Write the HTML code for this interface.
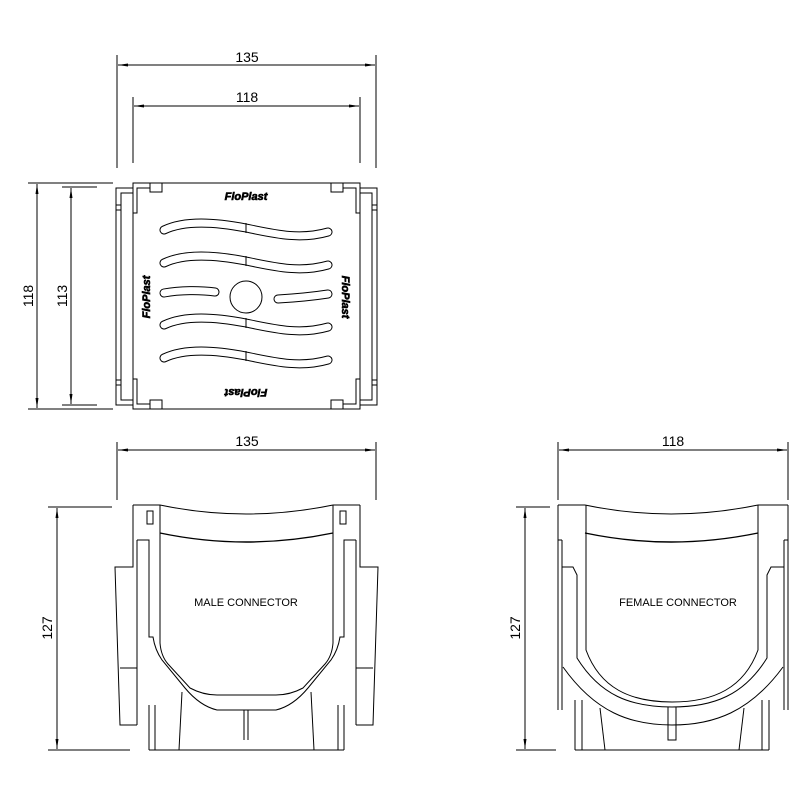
<!DOCTYPE html>
<html><head><meta charset="utf-8"><style>
html,body{margin:0;padding:0;background:#fff;}
svg{display:block;}
text{font-family:"Liberation Sans",sans-serif;fill:#000;}
</style></head><body>
<svg width="800" height="800" viewBox="0 0 800 800" xmlns="http://www.w3.org/2000/svg">
<defs>
<marker id="a" markerWidth="10" markerHeight="6" refX="10" refY="3" orient="auto-start-reverse" markerUnits="userSpaceOnUse"><path d="M0,1.5 L10,3 L0,4.5z" fill="#000"/></marker>
</defs>
<g stroke="#000" stroke-width="1" fill="none">
<line x1="117" y1="55" x2="117" y2="168"/><line x1="376" y1="55" x2="376" y2="168"/>
<line x1="118" y1="65" x2="375" y2="65" marker-start="url(#a)" marker-end="url(#a)"/>
<line x1="133" y1="97" x2="133" y2="163"/><line x1="360" y1="97" x2="360" y2="163"/>
<line x1="134" y1="106" x2="359" y2="106" marker-start="url(#a)" marker-end="url(#a)"/>
<line x1="28" y1="183" x2="113" y2="183"/><line x1="28" y1="409" x2="113" y2="409"/>
<line x1="37" y1="184" x2="37" y2="408" marker-start="url(#a)" marker-end="url(#a)"/>
<line x1="62" y1="187" x2="97" y2="187"/><line x1="62" y1="405" x2="97" y2="405"/>
<line x1="71" y1="188" x2="71" y2="404" marker-start="url(#a)" marker-end="url(#a)"/>
<rect x="133" y="183" width="227" height="226"/>
<path d="M133,188 H116 V405 H133"/><path d="M133,193 H121 V400 H133"/>
<path d="M360,188 H377 V405 H360"/><path d="M360,193 H372 V400 H360"/>
<line x1="116" y1="205" x2="121" y2="205"/><line x1="116" y1="210" x2="121" y2="210"/>
<line x1="116" y1="380" x2="121" y2="380"/><line x1="116" y1="385" x2="121" y2="385"/>
<line x1="372" y1="205" x2="377" y2="205"/><line x1="372" y1="210" x2="377" y2="210"/>
<line x1="372" y1="380" x2="377" y2="380"/><line x1="372" y1="385" x2="377" y2="385"/>
<path d="M150,183 V188 H137 V213 H133"/><path d="M150,188 V192 H162 V183"/>
<path d="M343,183 V188 H356 V213 H360"/><path d="M343,188 V192 H331 V183"/>
<path d="M150,409 V404 H137 V379 H133"/><path d="M150,404 V400 H162 V409"/>
<path d="M343,409 V404 H356 V379 H360"/><path d="M343,404 V400 H331 V409"/>
<g stroke-linecap="round">
<path d="M164,230 C185,220 215,222 246,228 C275,234 300,240 328,232" stroke-width="9"/>
<path d="M164,263 C185,253 215,255 246,261 C275,267 300,273 328,265" stroke-width="9"/>
<path d="M164,293 C180,290 200,290 215,292" stroke-width="9"/>
<path d="M278,299 C295,298 315,296 328,294" stroke-width="9"/>
<path d="M164,325 C185,315 215,317 246,323 C275,329 300,335 328,327" stroke-width="9"/>
<path d="M164,358 C185,348 215,350 246,356 C275,362 300,368 328,360" stroke-width="9"/>
</g>
<g stroke="#fff" stroke-linecap="round">
<path d="M164,230 C185,220 215,222 246,228 C275,234 300,240 328,232" stroke-width="7"/>
<path d="M164,263 C185,253 215,255 246,261 C275,267 300,273 328,265" stroke-width="7"/>
<path d="M164,293 C180,290 200,290 215,292" stroke-width="7"/>
<path d="M278,299 C295,298 315,296 328,294" stroke-width="7"/>
<path d="M164,325 C185,315 215,317 246,323 C275,329 300,335 328,327" stroke-width="7"/>
<path d="M164,358 C185,348 215,350 246,356 C275,362 300,368 328,360" stroke-width="7"/>
</g>
<line x1="246" y1="223" x2="246" y2="233"/><line x1="246" y1="256" x2="246" y2="266"/>
<line x1="246" y1="318" x2="246" y2="328"/><line x1="246" y1="351" x2="246" y2="361"/>
<circle cx="246" cy="297" r="16"/>

<line x1="117" y1="442" x2="117" y2="500"/><line x1="376" y1="442" x2="376" y2="500"/>
<line x1="118" y1="450" x2="375" y2="450" marker-start="url(#a)" marker-end="url(#a)"/>
<line x1="48" y1="507" x2="112" y2="507"/><line x1="48" y1="750" x2="130" y2="750"/>
<line x1="57" y1="508" x2="57" y2="749" marker-start="url(#a)" marker-end="url(#a)"/>
<line x1="558" y1="442" x2="558" y2="500"/><line x1="788" y1="442" x2="788" y2="500"/>
<line x1="559" y1="450" x2="787" y2="450" marker-start="url(#a)" marker-end="url(#a)"/>
<line x1="516" y1="507" x2="550" y2="507"/><line x1="516" y1="750" x2="556" y2="750"/>
<line x1="525" y1="508" x2="525" y2="749" marker-start="url(#a)" marker-end="url(#a)"/>

<!-- male view -->
<path d="M133,505 H160 M333,505 H360"/>
<path d="M160,505 Q246,523 333,505"/>
<path d="M160,533 Q246,551 333,533" stroke-width="1.4"/>
<path d="M133,505 V567 H115 L120,725 H137"/>
<path d="M360,505 V567 H378 L373,725 H356"/>
<line x1="137" y1="540" x2="137" y2="725"/><line x1="356" y1="540" x2="356" y2="725"/>
<line x1="120" y1="668" x2="137" y2="668"/><line x1="356" y1="668" x2="373" y2="668"/>
<path d="M137,540 H149 V637 H153 Q155,650 162,660 L185,688 Q200,706 217,710 H276 Q293,706 308,688 L331,660 Q338,650 340,637 H344 V540 H356"/>
<path d="M160,505 V643 Q161,656 168,664 L190,688 Q203,695 217,695 H276 Q290,695 303,688 L325,664 Q332,656 333,643 V505"/>
<rect x="147" y="511" width="6" height="13"/><rect x="340" y="511" width="6" height="13"/>
<line x1="149" y1="705" x2="149" y2="750"/><line x1="155" y1="705" x2="155" y2="750"/>
<line x1="344" y1="705" x2="344" y2="750"/><line x1="338" y1="705" x2="338" y2="750"/>
<line x1="182" y1="692" x2="179" y2="750"/><line x1="311" y1="692" x2="314" y2="750"/>
<line x1="149" y1="750" x2="344" y2="750"/>
<line x1="244" y1="710" x2="244" y2="740"/><line x1="248" y1="710" x2="248" y2="740"/>

<!-- female view -->
<path d="M558,505 V710 M788,505 V710"/>
<path d="M558,505 H585 M758,505 H788"/>
<path d="M585,505 Q671,523 758,505"/>
<path d="M585,533 Q671,551 758,533" stroke-width="1.4"/>
<path d="M558,540 H562 M784,540 H788"/>
<path d="M562,540 V710 M784,540 V710"/>
<path d="M562,567 H573 L577,575 V658 C600,695 630,707 672,707 C714,707 744,695 767,658 V575 L771,567 H784"/>
<path d="M586,505 V650 C600,688 630,702 672,702 C714,702 744,688 758,650 V505"/>
<path d="M563,667 C595,712 630,725 672,725 C714,725 750,712 783,667"/>
<line x1="575" y1="700" x2="575" y2="750"/><line x1="582" y1="700" x2="582" y2="750"/>
<line x1="769" y1="700" x2="769" y2="750"/><line x1="762" y1="700" x2="762" y2="750"/>
<line x1="600" y1="708" x2="605" y2="750"/><line x1="744" y1="708" x2="739" y2="750"/>
<line x1="575" y1="750" x2="769" y2="750"/>
<path d="M668,707 V740 H676 V707"/>
</g>
<text x="247" y="62" font-size="14" text-anchor="middle">135</text>
<text x="247" y="102" font-size="14" text-anchor="middle">118</text>
<text x="247" y="446" font-size="14" text-anchor="middle">135</text>
<text x="673" y="446" font-size="14" text-anchor="middle">118</text>
<text transform="translate(33,296) rotate(-90)" font-size="14" text-anchor="middle">118</text>
<text transform="translate(67,296) rotate(-90)" font-size="14" text-anchor="middle">113</text>
<text transform="translate(52,628) rotate(-90)" font-size="14" text-anchor="middle">127</text>
<text transform="translate(520,628) rotate(-90)" font-size="14" text-anchor="middle">127</text>
<text x="246" y="606" font-size="11" text-anchor="middle">MALE  CONNECTOR</text>
<text x="678" y="606" font-size="11" text-anchor="middle">FEMALE  CONNECTOR</text>
<g font-size="11" font-weight="bold" font-style="italic" fill="#fff" stroke="#000" stroke-width="0.6">
<text x="246" y="200" text-anchor="middle">FloPlast</text>
<text x="246" y="397" text-anchor="middle" transform="rotate(180 246 393)">FloPlast</text>
<text transform="translate(150,297) rotate(-90)" text-anchor="middle">FloPlast</text>
<text transform="translate(342,297) rotate(90)" text-anchor="middle">FloPlast</text>
</g>
</svg>
</body></html>
